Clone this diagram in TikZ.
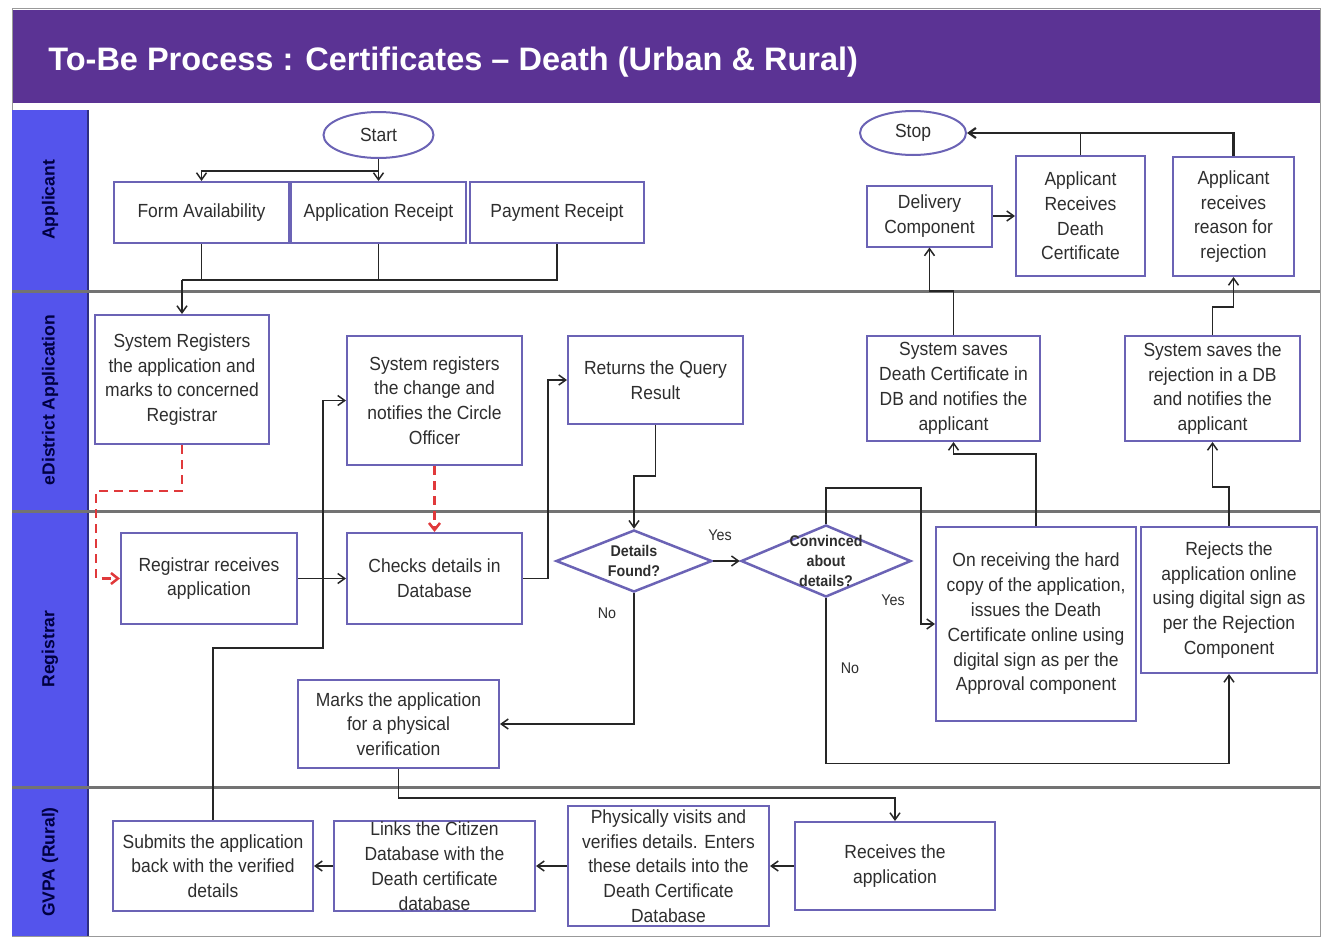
\documentclass[tikz,border=0pt]{standalone}
\usepackage{fontspec}
\setmainfont{Liberation Sans}[FakeStretch=0.92]
\newfontfamily\titlefont{Liberation Sans}
\usetikzlibrary{shapes.geometric,arrows.meta}

\definecolor{titlebar}{HTML}{5B3394}
\definecolor{lanehead}{HTML}{5454EC}
\definecolor{boxline}{HTML}{6B63B5}
\definecolor{txtgray}{HTML}{2E2E2E}
\definecolor{dashred}{HTML}{E0393B}

\begin{document}
\begin{tikzpicture}[thick,x=1bp,y=-1bp,
    sz/.style 2 args={minimum width=#1bp,minimum height=#2bp},
    box/.style={draw=boxline,line width=2bp,fill=white,text=txtgray,align=center,
        inner sep=0bp,font=\fontsize{19bp}{24.8bp}\selectfont},
    term/.style={ellipse,draw=boxline,line width=2bp,fill=white,text=txtgray,
        inner sep=0bp,font=\fontsize{19bp}{24bp}\selectfont},
    dec/.style={diamond,draw=boxline,line width=2.5bp,fill=white,inner sep=0bp},
    dectxt/.style={align=center,text=txtgray,inner sep=0bp,
        font=\fontsize{15.5bp}{20bp}\selectfont\bfseries},
    lbl/.style={text=txtgray,inner sep=0bp,font=\fontsize{15.5bp}{18bp}\selectfont},
    lanetxt/.style={rotate=90,text=black!75!blue,inner sep=0bp,
        font=\titlefont\bfseries\fontsize{17.5bp}{20bp}\selectfont},
    sep/.style={draw=black!55,line width=3bp},
    line/.style={draw=black!85,line width=1.5bp},
    flow/.style={line,-{Straight Barb[length=7bp,width=10bp]}},
    redflow/.style={draw=dashred,line width=2.5bp,dash pattern=on 9bp off 6bp,
        -{Straight Barb[length=7bp,width=11bp]}}]

\useasboundingbox (0,0) rectangle (1324,936);

% title and lanes
\fill[titlebar] (12,10) rectangle (1320,103);
\node[anchor=west,text=white,inner sep=0bp,font=\titlefont\bfseries\fontsize{32.5bp}{36bp}\selectfont]
    (title) at (48,62) {To-Be Process : Certificates – Death (Urban \& Rural)};
\draw[black!40,line width=1bp] (12,8) rectangle (1320,936);
\fill[lanehead] (12,110) rectangle (88,936);
\draw[lanehead!55!black,line width=1.5bp] (88,110) -- (88,936);
\foreach \yy in {291,511,787} {
    \draw[sep] (12,\yy) -- (1320,\yy);
}
\node[lanetxt] (lapp) at (50,200) {Applicant};
\node[lanetxt] (ledist) at (50,400) {eDistrict Application};
\node[lanetxt] (lreg) at (50,649) {Registrar};
\node[lanetxt] (lgvpa) at (50,862) {GVPA (Rural)};

% applicant
\node[term,sz={110}{46}] (start) at (378.5,135) {Start};
\node[box,sz={175}{61}] (formav) at (201.5,212.5) {Form Availability};
\node[box,sz={175}{61}] (apprec) at (378.5,212.5) {Application Receipt};
\node[box,sz={174}{61}] (payrec) at (557,212.5) {Payment Receipt};
\node[term,sz={106}{44}] (stop) at (913,133) {Stop};
\node[box,sz={125}{61}] (delivery) at (929.5,216) {Delivery\\Component};
\node[box,sz={129}{120}] (recdc) at (1080.5,216) {Applicant\\Receives\\Death\\Certificate};
\node[box,sz={121}{119}] (recrej) at (1233.5,216.5) {Applicant\\receives\\reason for\\rejection};

% edistrict application
\node[box,sz={174}{129}] (sysreg) at (182,379.5) {System Registers\\the application and\\marks to concerned\\Registrar};
\node[box,sz={175}{129}] (syschg) at (434.5,400.5) {System registers\\the change and\\notifies the Circle\\Officer};
\node[box,sz={175}{88}] (query) at (655.5,380) {Returns the Query\\Result};
\node[box,sz={173}{105}] (savedc) at (953.5,388.5) {System saves\\Death Certificate in\\DB and notifies the\\applicant};
\node[box,sz={175}{105}] (saverej) at (1212.5,388.5) {System saves the\\rejection in a DB\\and notifies the\\applicant};

% registrar
\node[box,sz={176}{91}] (regrec) at (209,578.5) {Registrar receives\\application};
\node[box,sz={175}{91}] (checks) at (434.5,578.5) {Checks details in\\Database};
\node[dec,sz={156}{62}] (found) at (634,561) {};
\node[dectxt] (foundtxt) at (found) {Details\\Found?};
\node[dec,sz={170}{72}] (conv) at (826,561) {};
\node[dectxt] (convtxt) at (conv) {Convinced\\about\\details?};
\node[box,sz={200}{194}] (hardcopy) at (1036,624) {On receiving the hard\\copy of the application,\\issues the Death\\Certificate online using\\digital sign as per the\\Approval component};
\node[box,sz={176}{146}] (rejects) at (1229,600) {Rejects the\\application online\\using digital sign as\\per the Rejection\\Component};
\node[box,sz={201}{88}] (marks) at (398.5,724) {Marks the application\\for a physical\\verification};

% gvpa
\node[box,sz={200}{90}] (submits) at (213,866) {Submits the application\\back with the verified\\details};
\node[box,sz={201}{90}] (links) at (434.5,866) {Links the Citizen\\Database with the\\Death certificate\\database};
\node[box,sz={201}{120}] (visits) at (668.5,866) {Physically visits and\\verifies details. Enters\\these details into the\\Death Certificate\\Database};
\node[box,sz={200}{88}] (receives) at (895,866) {Receives the\\application};

\node[lbl] (yes1) at (720,535) {Yes};
\node[lbl] (yes2) at (893,600) {Yes};
\node[lbl] (no1) at (607,613) {No};
\node[lbl] (no2) at (850,668) {No};

% connectors
\draw[flow] (start.south) -- ++(0,12) coordinate (fork) -| (formav.north);
\draw[flow] (fork) -- (apprec.north);
\coordinate (join) at (182,280);
\draw[line] (formav.south) -- (formav.south |- join);
\draw[line] (apprec.south) -- (apprec.south |- join);
\draw[line] (payrec.south) |- (join);
\draw[flow] (join) -- (sysreg.north);

\draw[redflow] (sysreg.south) -- ++(0,46) -- ++(-86,0) |- (regrec.west);
\draw[redflow] (syschg.south) -- (checks.north);

\draw[flow] (regrec.east) -- (checks.west);
\draw[flow] (checks.east) -- ++(25,0) |- (query.west);
\draw[flow] (query.south) -- ++(0,51) -| (found.north);
\draw[flow] (found.east) -- (conv.west);
\draw[flow] (found.south) |- (marks.east);
\draw[flow] (marks.south) -- ++(0,29) -| (receives.north);
\draw[flow] (receives.west) -- (visits.east);
\draw[flow] (visits.west) -- (links.east);
\draw[flow] (links.west) -- (submits.east);
\draw[flow] (submits.north) -- ++(0,-172) -- ++(110,0) |- (syschg.west);

\draw[flow] (conv.north) -- ++(0,-36) -- ++(95,0) |- (hardcopy.west);
\draw[flow] (conv.south) -- ++(0,165) -| (rejects.south);
\draw[flow] (hardcopy.north) -- ++(0,-72) -| (savedc.south);
\draw[flow] (rejects.north) -- ++(0,-39) -| (saverej.south);
\draw[flow] (savedc.north) -- ++(0,-44) -| (delivery.south);
\draw[flow] (saverej.north) -- ++(0,-28) -| (recrej.south);
\draw[flow] (delivery.east) -- (recdc.west);
\draw[line] (recdc.north) -- (recdc.north |- stop.east);
\draw[flow,line width=2.2bp] (recrej.north) |- (stop.east);

\end{tikzpicture}
\end{document}
